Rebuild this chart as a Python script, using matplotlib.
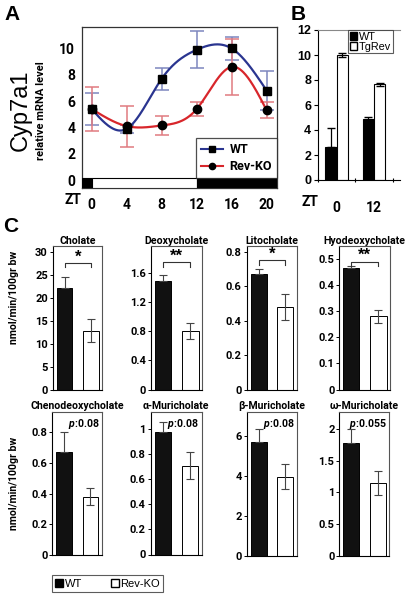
import numpy as np
import matplotlib
matplotlib.use("Agg")
import matplotlib.pyplot as plt
from matplotlib.patches import Rectangle
from matplotlib.lines import Line2D

# ---------------- data ----------------
# Panel A: Cyp7a1 relative mRNA level over ZT
zt = [0, 4, 8, 12, 16, 20]
wt_a = [5.4, 3.9, 7.7, 9.9, 10.0, 6.8]
wt_a_err = [1.2, 0.3, 0.85, 1.4, 0.85, 1.45]
ko_a = [5.4, 4.1, 4.15, 5.4, 8.6, 5.3]
ko_a_err = [1.65, 1.55, 0.75, 0.5, 2.1, 0.6]

# Panel B: WT vs TgRev at ZT0 and ZT12
b_groups = ["0", "12"]
wt_b = [2.65, 4.9]
wt_b_err = [1.5, 0.15]
tg_b = [10.0, 7.65]
tg_b_err = [0.2, 0.1]

# Panel C: bile acid secretion
c_names = ["Cholate", "Deoxycholate", "Litocholate", "Hyodeoxycholate",
           "Chenodeoxycholate", "\u03b1-Muricholate", "\u03b2-Muricholate", "\u03c9-Muricholate"]
c_wt = [22.2, 1.49, 0.67, 0.465, 0.67, 0.98, 5.7, 1.78]
c_wt_err = [2.3, 0.09, 0.03, 0.01, 0.13, 0.08, 0.65, 0.23]
c_ko = [12.9, 0.81, 0.48, 0.28, 0.38, 0.71, 3.95, 1.15]
c_ko_err = [2.5, 0.11, 0.075, 0.025, 0.055, 0.105, 0.62, 0.19]
c_sig = ["*", "**", "*", "**", "p:0.08", "p:0.08", "p:0.08", "p:0.055"]
c_ymax = [31.2, 1.97, 0.83, 0.548, 0.936, 1.14, 7.2, 2.28]
c_yticks = [[0, 5, 10, 15, 20, 25, 30], [0, 0.4, 0.8, 1.2, 1.6], [0, 0.2, 0.4, 0.6, 0.8],
            [0, 0.1, 0.2, 0.3, 0.4, 0.5], [0, 0.2, 0.4, 0.6, 0.8], [0, 0.2, 0.4, 0.6, 0.8, 1],
            [0, 2, 4, 6], [0, 0.5, 1, 1.5, 2]]
c_bracket = [27.6, 1.75, 0.75, 0.49]

# ---------------- style ----------------
W, H = 407, 597
FONT = ["Roboto", "DejaVu Sans"]
ARIAL = ["Liberation Sans", "DejaVu Sans"]
plt.rcParams["font.family"] = FONT
plt.rcParams["mathtext.fontset"] = "custom"
plt.rcParams["mathtext.it"] = "Roboto:italic:bold"
plt.rcParams["mathtext.rm"] = "Roboto:bold"

fig = plt.figure(figsize=(W / 100, H / 100), dpi=100)


def px_axes(l, t, r, b):
    return fig.add_axes([l / W, 1 - b / H, (r - l) / W, (b - t) / H])


def natural_spline(x, y, n=300):
    x = np.asarray(x, float)
    y = np.asarray(y, float)
    k = len(x)
    h = np.diff(x)
    A = np.zeros((k, k))
    r = np.zeros(k)
    A[0, 0] = A[-1, -1] = 1
    for i in range(1, k - 1):
        A[i, i - 1] = h[i - 1]
        A[i, i] = 2 * (h[i - 1] + h[i])
        A[i, i + 1] = h[i]
        r[i] = 3 * ((y[i + 1] - y[i]) / h[i] - (y[i] - y[i - 1]) / h[i - 1])
    c = np.linalg.solve(A, r)
    xs = np.linspace(x[0], x[-1], n)
    ys = np.empty_like(xs)
    for j, xv in enumerate(xs):
        i = min(np.searchsorted(x, xv, side="right") - 1, k - 2)
        b = (y[i + 1] - y[i]) / h[i] - h[i] * (2 * c[i] + c[i + 1]) / 3
        d = (c[i + 1] - c[i]) / (3 * h[i])
        t = xv - x[i]
        ys[j] = y[i] + b * t + c[i] * t ** 2 + d * t ** 3
    return xs, ys


# ---------------- Panel A ----------------
BLUE = "#2a3590"
RED = "#d8262b"
axA = px_axes(82, 27, 277, 188)
x0, x1 = -1.11, 21.18
axA.set_xlim(x0, x1)
axA.set_ylim(-0.6, 11.63)
axA.errorbar(zt, wt_a, yerr=wt_a_err, fmt="none", ecolor="#7d86bf", elinewidth=1.1, capsize=5, capthick=1.1, zorder=2)
axA.errorbar(zt, ko_a, yerr=ko_a_err, fmt="none", ecolor="#e07a80", elinewidth=1.1, capsize=5, capthick=1.1, zorder=2)
xs, ys = natural_spline(zt, wt_a)
axA.plot(xs, ys, color=BLUE, lw=1.6, zorder=3)
xs, ys = natural_spline(zt, ko_a)
axA.plot(xs, ys, color=RED, lw=1.6, zorder=3)
axA.plot(zt, wt_a, ls="none", marker="s", ms=6, color="black", zorder=4)
axA.plot(zt, ko_a, ls="none", marker="o", ms=6, color="black", zorder=4)
# light/dark strip
axA.add_patch(Rectangle((x0, -0.6), 0 - x0, 0.73, facecolor="black", edgecolor="black", lw=0.8, zorder=5))
axA.add_patch(Rectangle((0, -0.6), 12, 0.73, facecolor="white", edgecolor="black", lw=0.8, zorder=5))
axA.add_patch(Rectangle((12, -0.6), x1 - 12, 0.73, facecolor="black", edgecolor="black", lw=0.8, zorder=5))
axA.set_yticks([0, 2, 4, 6, 8, 10])
axA.set_xticks(zt)
axA.tick_params(axis="both", length=0, labelsize=10, pad=5)
axA.tick_params(axis="x", pad=7)
for lab in axA.get_xticklabels() + axA.get_yticklabels():
    lab.set_fontweight("bold")
for s in axA.spines.values():
    s.set_color("#333333")
    s.set_linewidth(0.9)
leg = axA.legend(handles=[Line2D([], [], color=BLUE, marker="s", mfc="black", mec="black", ms=4.5, lw=1.5, label="WT"),
                          Line2D([], [], color=RED, marker="o", mfc="black", mec="black", ms=4.5, lw=1.5, label="Rev-KO")],
                 loc="lower right", bbox_to_anchor=(1.0, 0.062), fancybox=False, edgecolor="#222222",
                 prop={"size": 9, "weight": "bold"}, handlelength=1.8, borderpad=0.4, labelspacing=0.3,
                 handletextpad=0.5, borderaxespad=0)
leg.get_frame().set_linewidth(0.9)
leg.set_zorder(6)
fig.text(73 / W, 1 - 200 / H, "ZT", ha="center", va="center", fontsize=10, fontweight="bold")
fig.text(12 / W, 1 - 15 / H, "A", ha="center", va="center", fontsize=15, fontweight="bold", family=ARIAL)
fig.text(21 / W, 1 - 110 / H, "Cyp7a1", ha="center", va="center", rotation=90, fontsize=17, family=ARIAL)
fig.text(41 / W, 1 - 111 / H, "relative mRNA level", ha="center", va="center", rotation=90, fontsize=8,
         fontweight="bold")

# ---------------- Panel B ----------------
axB = px_axes(318, 30, 400, 180)
axB.set_xlim(-0.5, 1.7)
axB.set_ylim(0, 12)
xb = np.arange(len(b_groups))
bw = 0.3
axB.bar(xb - bw / 2, wt_b, bw, color="black", edgecolor="black", lw=0.8, zorder=2)
axB.bar(xb + bw / 2, tg_b, bw, color="white", edgecolor="black", lw=0.8, zorder=2)
axB.errorbar(xb - bw / 2, wt_b, yerr=[[0, wt_b_err[1]], wt_b_err], fmt="none", ecolor="black",
             elinewidth=0.9, capsize=3, zorder=3)
axB.errorbar(xb + bw / 2, tg_b, yerr=tg_b_err, fmt="none", ecolor="black", elinewidth=0.9, capsize=3, zorder=3)
axB.set_yticks(range(0, 13, 2))
axB.set_xticks([-0.5, 0.5, 1.5])
axB.set_xticklabels([])
axB.set_xticks(xb, minor=True)
axB.set_xticklabels(b_groups, minor=True)
axB.tick_params(axis="x", which="major", length=3, direction="inout", width=0.8)
axB.tick_params(axis="x", which="minor", length=0, pad=15, labelsize=10)
axB.tick_params(axis="y", length=3, width=0.8, labelsize=9, pad=2)
for lab in axB.get_yticklabels():
    lab.set_family(ARIAL)
    lab.set_fontweight("bold")
for lab in axB.get_xticklabels(minor=True):
    lab.set_fontweight("bold")
axB.spines["right"].set_visible(False)
axB.spines["top"].set_color("#888888")
for s in ["left", "bottom", "top"]:
    axB.spines[s].set_linewidth(0.8)
legB = axB.legend(handles=[Rectangle((0, 0), 1, 1, fc="black", ec="black", label="WT"),
                           Rectangle((0, 0), 1, 1, fc="white", ec="black", label="TgRev")],
                  loc="upper left", bbox_to_anchor=((348 - 318) / 82, 1.0), fancybox=False, edgecolor="#333333",
                  prop={"size": 7.8, "family": ARIAL}, handlelength=0.7, handleheight=0.7, borderpad=0.15,
                  labelspacing=0.0, handletextpad=0.15, borderaxespad=0)
legB.get_frame().set_linewidth(0.8)
fig.text(310 / W, 1 - 202 / H, "ZT", ha="center", va="center", fontsize=10, fontweight="bold")
fig.text(298 / W, 1 - 14 / H, "B", ha="center", va="center", fontsize=15, fontweight="bold", family=ARIAL)

# ---------------- Panel C ----------------
boxes = [(52.7, 246.5, 102.3, 390), (151, 246.5, 202, 389.5), (246.7, 246.5, 296.7, 389.5),
         (339.3, 246.5, 390, 389.5), (52.3, 411.7, 101.7, 554.7), (150.7, 411.7, 201.7, 554.5),
         (246.7, 411.7, 296.7, 555.5), (339.3, 411.7, 389.3, 555.5)]
for i, (l, t, r, b) in enumerate(boxes):
    ax = px_axes(l, t, r, b)
    ax.set_xlim(-0.446, 1.427)
    ax.set_ylim(0, c_ymax[i])
    ax.bar([0], [c_wt[i]], 0.6, color="#111111", edgecolor="black", lw=0.7, zorder=2)
    ax.bar([1], [c_ko[i]], 0.6, color="white", edgecolor="black", lw=0.7, zorder=2)
    ax.errorbar([0], [c_wt[i]], yerr=[[0], [c_wt_err[i]]], fmt="none", ecolor="#444444", elinewidth=0.8,
                capsize=3, capthick=0.8, zorder=3)
    ax.errorbar([1], [c_ko[i]], yerr=[c_ko_err[i]], fmt="none", ecolor="#444444", elinewidth=0.8,
                capsize=3, capthick=0.8, zorder=3)
    ax.set_yticks(c_yticks[i])
    ax.set_yticklabels([("%g" % v) for v in c_yticks[i]])
    ax.set_xticks([])
    ax.tick_params(axis="y", length=2.5, width=0.7, labelsize=8, pad=1)
    for lab in ax.get_yticklabels():
        lab.set_fontweight("bold")
    for s in ax.spines.values():
        s.set_linewidth(0.8)
        s.set_color("#555555")
    ax.spines["left"].set_color("black")
    ax.spines["bottom"].set_color("black")
    ax.set_title(c_names[i], fontsize=7.6, fontweight="bold", pad=2)
    if i < 4:
        yb = c_bracket[i]
        tk = c_ymax[i] * 0.03
        ax.plot([0, 0, 1, 1], [yb - tk, yb, yb, yb - tk], color="#333333", lw=0.8, zorder=3)
        ax.text(0.5, yb - c_ymax[i] * 0.01, c_sig[i], ha="center", va="bottom", fontsize=12, fontweight="bold",
                family=ARIAL)
    else:
        pval = c_sig[i].split(":")[1]
        ax.text(0.95, 0.96, r"$\mathit{p}$:" + pval, transform=ax.transAxes, ha="right", va="top",
                fontsize=7.6, fontweight="bold")

fig.text(14 / W, 1 - 297 / H, "nmol/min/100gr bw", ha="center", va="center", rotation=90, fontsize=7.6,
         fontweight="bold")
fig.text(14 / W, 1 - 483 / H, "nmol/min/100gr bw", ha="center", va="center", rotation=90, fontsize=7.6,
         fontweight="bold")
fig.text(11 / W, 1 - 226 / H, "C", ha="center", va="center", fontsize=15, fontweight="bold", family=ARIAL)

legC = fig.legend(handles=[Rectangle((0, 0), 1, 1, fc="black", ec="black", label="WT"),
                           Rectangle((0, 0), 1, 1, fc="white", ec="black", label="Rev-KO")],
                  loc="lower left", bbox_to_anchor=(52 / W, 1 - 592 / H), ncol=2, fancybox=False,
                  edgecolor="#333333", prop={"size": 8, "family": ARIAL}, handlelength=0.7, handleheight=0.7,
                  borderpad=0.3, handletextpad=0.15, columnspacing=2.6, borderaxespad=0)
legC.get_frame().set_linewidth(0.8)

fig.savefig("out.png", dpi=100)
